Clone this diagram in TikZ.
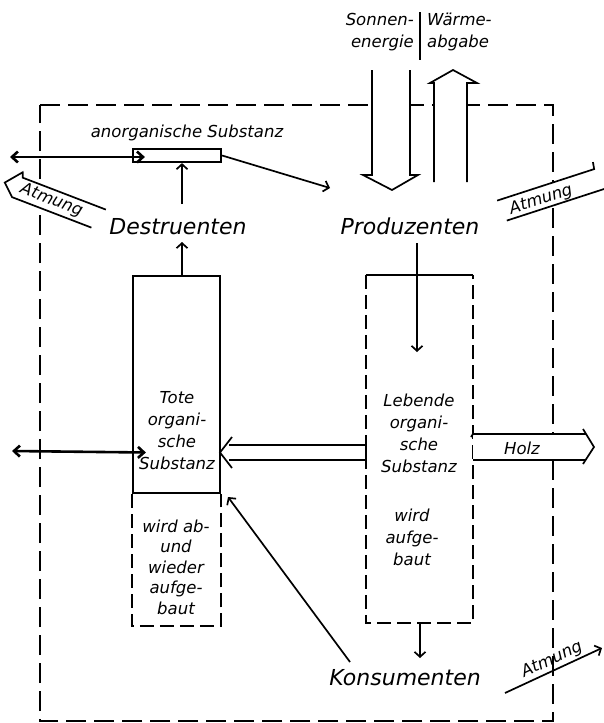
\documentclass[tikz,border=0pt]{standalone}
\usepackage{fontspec}
\setmainfont{DejaVu Sans}
\usetikzlibrary{arrows.meta,calc}
\begin{document}
\begin{tikzpicture}[x=1pt,y=-1pt,
  ln/.style={line width=1.7pt},
  bx/.style={line width=2.2pt},
  dsh/.style={line width=1.8pt, dash pattern=on 20pt off 8pt},
  dshb/.style={line width=1.9pt, dash pattern=on 14pt off 6pt},
  arr/.style={ln,-{Straight Barb[length=5pt,width=11pt]}},
  bold/.style={line width=2.6pt,{Straight Barb[length=6pt,width=11pt]}-{Straight Barb[length=6pt,width=11pt]}},
  big/.style={font=\fontsize{22}{24}\selectfont\itshape, inner sep=0pt, anchor=base},
  sm/.style={font=\fontsize{16.5}{22}\selectfont\itshape, align=center, inner sep=0pt},
]
\useasboundingbox (0,0) rectangle (604,723);
\fill[white] (0,0) rectangle (604,723);

% system boundary
\draw[dsh] (40,105) -- (553,105) -- (553,721) -- (40,721) -- cycle;

% Sonnenenergie arrow
\fill[white] (372,60) -- (372,175) -- (363,175) -- (392,190) -- (418,175) -- (410,175) -- (410,60) -- cycle;
\draw[ln] (372,70) -- (372,175) -- (363,175) -- (392,190) -- (418,175) -- (410,175) -- (410,70);
% Waermeabgabe arrow
\fill[white] (434,190) -- (434,83) -- (430,83) -- (453,70) -- (477,83) -- (467,83) -- (467,190) -- cycle;
\draw[ln] (434,182) -- (434,83) -- (430,83) -- (453,70) -- (477,83) -- (467,83) -- (467,182);
\draw[ln] (420,12) -- (420,60);
\node[sm, anchor=north east, align=right] (sonnen) at (414,13) {Sonnen-\\energie};
\node[sm, anchor=north west, align=left] (waerme) at (427,13) {Wärme-\\abgabe};

% anorganische Substanz
\node[sm] (anorgtxt) at (187,133) {anorganische Substanz};
\node[draw, bx, minimum width=88pt, minimum height=13pt, inner sep=0pt] (anorg) at (177,155.5) {};

% main labels
\node[big] (destr) at (178,234) {Destruenten};
\node[big] (prod) at (410,234) {Produzenten};
\node[big] (kons) at (405,685) {Konsumenten};

% Tote organische Substanz
\node[draw, bx, minimum width=87pt, minimum height=217pt, inner sep=0pt] (tote) at (176.5,384.5) {};
\node[sm] (totetxt) at (177,431) {Tote\\organi-\\sche\\Substanz};
\draw[dshb] (tote.south west) -- ([yshift=-132pt]tote.south west) -- ([yshift=-132pt]tote.south east) -- (tote.south east);
\node[sm, font=\fontsize{16.5}{20.5}\selectfont\itshape] (totelow) at (176,567) {wird ab-\\und\\wieder\\aufge-\\baut};

% Lebende organische Substanz
\node[minimum width=107pt, minimum height=348pt, inner sep=0pt] (leb) at (419.5,449) {};
\draw[dshb] (leb.north west) -- (leb.south west) -- (leb.south east) -- (leb.north east);
\draw[bx] (leb.north west) -- (leb.north east);
\node[sm] (lebtxt) at (419,433) {Lebende\\organi-\\sche\\Substanz};
\node[sm] (lebtxt2) at (412,537) {wird\\aufge-\\baut};

% connectors
\coordinate (wA) at (10,157);
\draw[bold] (wA) -- ([xshift=13pt,yshift=-1.5pt]anorg.west);
\coordinate (d1) at (182,204);
\draw[arr] (d1) -- (anorg.south -| d1);
\coordinate (p1) at (330,188);
\draw[arr] (anorg.east) -- (p1);
\coordinate (d2) at (182,242);
\draw[arr] (tote.north -| d2) -- (d2);
\coordinate (p2) at (417,243);
\coordinate (p3) at (417,352);
\draw[arr] (p2) -- (p3);

% Lebende -> Tote (double line arrow)
\coordinate (lt) at (220,452.5);
\draw[ln] (366,445) -- (229,445);
\draw[ln] (366,460) -- (229,460);
\draw[ln] (232,437) -- (lt) -- (232,468);
\draw[ln] (366,440) -- (366,465);

% Holz
\fill[white] (473,434) rectangle (585,460);
\draw[ln] (471,437) -- (473,434) -- (586,434);
\draw[ln] (473,460) -- (585,460);
\draw[ln] (583,429) -- (594,447) -- (583,464);
\node[sm] (holz) at (522,448) {Holz};

% left exchange arrow
\coordinate (wB) at (12,451);
\draw[bold] (wB) -- ([xshift=14pt]tote.west |- lt);

% Konsumenten -> Tote
\coordinate (k1) at (350,662);
\coordinate (k2) at (228,497);
\draw[arr] (k1) -- (k2);
\coordinate (k3) at (420,623);
\coordinate (k4) at (420,658);
\draw[arr] (k3) -- (k4);

% Atmung left
\begin{scope}[shift={(58,203)}, rotate=-21]
  \fill[white] (47,-11) -- (-42,-11) -- (-44,-16) -- (-57,0) -- (-45,11) -- (40,11) -- cycle;
  \draw[ln] (47,-11) -- (-42,-11) -- (-44,-16) -- (-57,0) -- (-45,11) -- (40,11);
  \node[sm, rotate=-21] (atm1) at (-7,0) {Atmung};
\end{scope}
% Atmung right upper
\begin{scope}[shift={(550,195)}, rotate=18]
  \fill[white] (-52,-11) -- (50,-11) -- (60,0) -- (55,11) -- (-49,11) -- cycle;
  \draw[ln] (-52,-11) -- (50,-11) -- (51,-18);
  \draw[ln] (-49,11) -- (56,11);
  \node[sm, rotate=18] (atm2) at (-10,2) {Atmung};
\end{scope}
% Atmung right lower
\coordinate (r1) at (505,693);
\coordinate (r2) at (602,648);
\draw[arr] (r1) -- (r2);
\node[sm, rotate=25] (atm3) at (552,660) {Atmung};
\end{tikzpicture}
\end{document}
